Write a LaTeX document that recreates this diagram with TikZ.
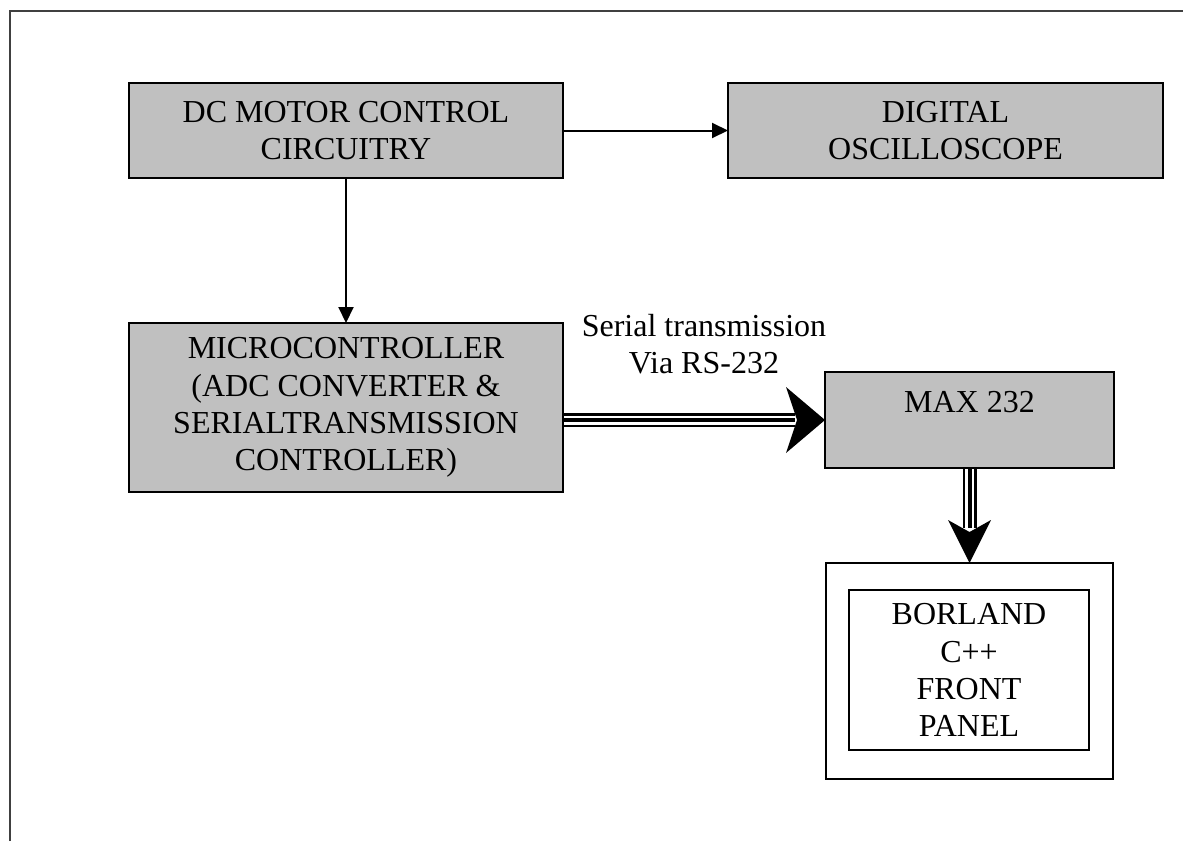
\documentclass[tikz,border=0pt]{standalone}
\usepackage{fontspec}
\setmainfont{Liberation Serif}
\usetikzlibrary{arrows.meta,calc,backgrounds}
\definecolor{boxgray}{HTML}{C0C0C0}

\begin{document}
\begin{tikzpicture}[x=0.5pt,y=-0.5pt,
  txt/.style={font=\fontsize{16}{18.6}\selectfont, align=center, inner sep=0pt},
  blk/.style={txt, draw=black, fill=boxgray, line width=0.8pt, outer sep=0pt},
  plain/.style={txt, draw=black, fill=white, line width=0.6pt, outer sep=0pt},
  thin arrow/.style={line width=1pt, -{Triangle[length=8pt,width=7.5pt]}},
  bus outer/.style={line width=7pt},
  bus gap/.style={line width=4.5pt, white},
  bus core/.style={line width=2pt}]
\useasboundingbox (0,0) rectangle (1183,841);

% page frame
\draw[line width=0.75pt, black!75] (10,841) -- (10,11) -- (1183,11);

% blocks
\node[blk, minimum width=217pt, minimum height=47.5pt] (dc) at (346,130.5)
  {DC MOTOR CONTROL\\CIRCUITRY};
\node[blk, minimum width=217.5pt, minimum height=47.5pt] (osc) at (945.5,130.5)
  {DIGITAL\\OSCILLOSCOPE};
\node[blk, minimum width=217pt, minimum height=84.5pt] (micro) at (346,407.5)
  {MICROCONTROLLER\\(ADC CONVERTER \&\\SERIALTRANSMISSION\\CONTROLLER)};
\node[blk, minimum width=144.5pt, minimum height=48pt] (max) at (969.5,420)
  {MAX 232\\~};
\node[plain, minimum width=143.5pt, minimum height=108pt] (outer) at (969.5,671) {};
\node[plain, minimum width=120pt, minimum height=80pt] (inner) at (969,670)
  {BORLAND\\C++\\FRONT\\PANEL};

\node[txt] (via) at (704,344) {Serial transmission\\Via RS-232};

% single-line connectors
\draw[thin arrow] (dc.east) -- (osc.west);
\draw[thin arrow] (dc.south) -- (micro.north);

% triple-line serial buses
\coordinate (hs) at (micro.east |- max.west);
\coordinate (he) at ($(max.west)+(-30,0)$);
\coordinate (ve) at ($(outer.north)+(0,-35)$);
\begin{scope}[on background layer]
  \foreach \s in {bus outer, bus gap, bus core} {
    \draw[\s] (hs) -- (he);
    \draw[\s] (max.south) -- (ve);
  }
\end{scope}

% wide arrowheads
\fill (max.west) -- ++(-39,-33) -- ++(11,33) -- ++(-11,33) -- cycle;
\fill (outer.north) -- ++(-21.5,-43) -- ++(21.5,12) -- ++(21.5,-12) -- cycle;
\end{tikzpicture}
\end{document}
